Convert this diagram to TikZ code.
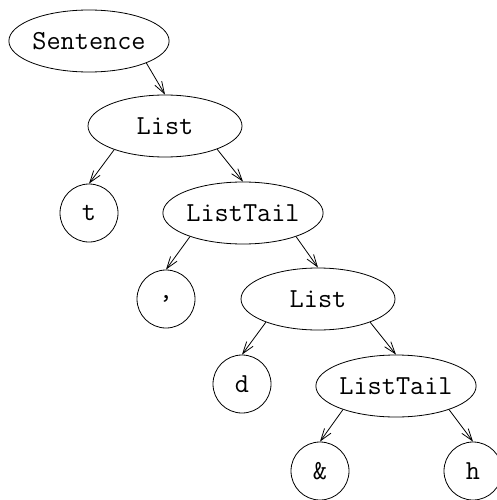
\documentclass[tikz,border=0pt]{standalone}
\usetikzlibrary{shapes.geometric,arrows.meta}
\begin{document}
\begin{tikzpicture}[x=1pt,y=-1pt,
  every node/.style={font=\ttfamily\fontsize{27.5}{32}\selectfont, draw, line width=0.8pt, inner sep=0pt},
  ell/.style={ellipse, minimum width=154pt, minimum height=62pt},
  circ/.style={circle, minimum size=58pt},
  edge/.style={line width=0.8pt, -{Straight Barb[length=12pt,width=8pt,line width=0.8pt]}}]
\fill[white] (0,0) rectangle (496,500);
\useasboundingbox (0,0) rectangle (496,500);
\node[ell] (s) at (89,41) {Sentence};
\node[ell] (l1) at (165,126) {List};
\node[circ] (t) at (89,213) {t};
\node[ell] (lt1) at (243,213) {ListTail};
\node[circ] (c) at (166,299) {,};
\node[ell] (l2) at (318,299) {List};
\node[circ] (d) at (242,384) {d};
\node[ell] (lt2) at (396,386) {ListTail};
\node[circ] (amp) at (320,471) {\&};
\node[circ] (h) at (473,471) {h};
\draw[edge] (s.-21) -- (l1.north);
\draw[edge] (l1.205) -- (t.north);
\draw[edge] (l1.-24) -- (lt1.north);
\draw[edge] (lt1.204) -- (c.north);
\draw[edge] (lt1.-24) -- (l2.north);
\draw[edge] (l2.204) -- (d.north);
\draw[edge] (l2.-24) -- (lt2.north);
\draw[edge] (lt2.204) -- (amp.north);
\draw[edge] (lt2.-24) -- (h.north);
\end{tikzpicture}
\end{document}
